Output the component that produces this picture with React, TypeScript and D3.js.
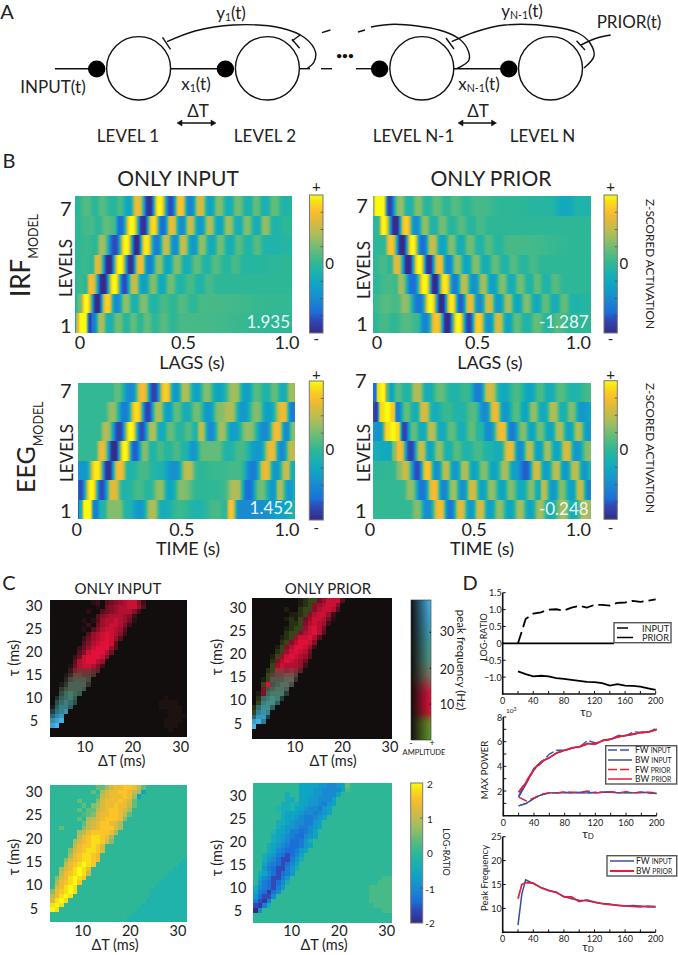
import React from 'react';
import * as d3 from 'd3';

// ---------- DATA ----------
const levelNames = [7, 6, 5, 4, 3, 2, 1];

// Panel B: each row (level 7 first) lists sample, z-value pairs for the stripes; 650 samples span a panel
const irfInput = [
  [0,-.05,37,.15,60,-.02,80,.15,115,-.05,135,.1,160,-.3,187,.7,223,-.95,253,1,287,-.8,316,.8,345,-.55,375,.6,405,-.3,431,.3,462,-.2,487,.25,520,-.15,542,.2,570,-.15,597,.2,630,-.1,650,-.05],
  [0,0,45,.1,70,0,95,.2,115,.1,135,-.7,170,1,205,-.95,235,.9,263,-.7,290,.7,320,-.5,345,.55,375,-.4,403,.45,433,-.3,460,.4,490,-.2,515,.3,545,-.2,570,.35,600,-.1,635,0,650,0],
  [0,0,35,.05,60,0,80,.4,120,-.8,153,1,185,-1,213,.95,245,-.6,273,.55,300,-.5,323,.55,355,-.4,380,.35,410,-.25,435,.25,465,-.2,490,.15,520,-.1,545,.15,575,-.1,650,-.05],
  [0,0,30,.05,50,0,67,.65,102,-1,135,1,167,-.95,195,.75,223,-.6,252,.35,278,-.3,305,.3,335,-.2,365,.2,395,-.1,420,.15,455,-.05,480,.1,510,-.05,650,0],
  [0,0,15,.05,30,0,48,.75,85,-1,118,1,148,-.8,177,.55,205,-.35,235,.3,260,-.25,287,.25,315,-.1,345,.1,375,-.1,400,.1,430,0,650,0],
  [0,-.1,12,.2,33,1,67,-1,97,.85,125,-.5,153,.35,178,-.15,205,.3,235,-.1,265,.1,295,0,320,.15,355,0,380,.1,650,.02],
  [0,-.3,7,.6,17,1,30,1,45,-.85,55,-.6,78,.45,103,-.15,130,.25,155,-.05,175,.2,195,0,215,.2,240,0,265,.15,295,0,320,.1,650,0],
];
const irfPrior = [
  [0,.3,8,1,28,1,48,-.85,80,.35,108,-.1,135,.3,162,-.05,190,.2,220,0,245,.15,280,0,310,.1,400,0,520,-.05,580,-.25,620,-.1,652,-.1],
  [0,-.05,12,0,30,1,67,-1,98,.85,128,-.5,155,.35,180,-.1,208,.25,235,-.05,265,.15,295,-.05,320,.1,350,0,652,0],
  [0,0,30,0,52,.8,87,-1,118,1,148,-.7,177,.55,208,-.3,235,.3,262,-.2,290,.25,320,-.1,345,.15,375,-.05,405,.1,652,0],
  [0,0,30,.1,50,0,70,.65,105,-1,138,1,167,-.95,198,.75,225,-.55,252,.35,280,-.3,307,.3,337,-.2,365,.2,395,-.1,420,.15,450,-.05,480,.1,510,0,652,0],
  [0,0,50,.1,65,.05,83,.4,118,-.7,155,1,185,-1,215,.95,245,-.6,272,.5,302,-.45,330,.4,358,-.35,387,.3,415,-.2,440,.25,470,-.1,490,.2,520,-.1,545,.15,575,0,652,0],
  [0,.05,40,.15,70,.1,95,.35,138,-.65,172,1,205,-1,235,.95,262,-.75,290,.7,318,-.5,347,.6,375,-.4,405,.4,432,-.3,460,.3,490,-.25,517,.2,545,-.2,572,.2,600,-.1,652,-.05],
  [0,0,35,.1,60,0,100,.15,130,.05,155,-.55,190,.8,222,-1,255,1,287,-.85,315,.85,347,-.45,375,.6,405,-.3,430,.2,460,-.1,490,.2,525,-.05,555,.15,590,0,652,0],
];
const eegInput = [
  [0,.02,100,.02,117,.2,159,-.5,195,.75,229,-.85,264,.85,294,-.4,322,.45,357,-.3,387,.3,422,-.3,472,.4,507,-.35,537,.15,567,-.1,590,.2,617,-.2,642,.4,652,.35],
  [0,.02,75,.02,104,.35,142,-.6,177,.9,210,-.85,242,.45,272,-.35,297,.2,327,-.2,357,.25,392,-.4,425,.3,457,.45,497,-.4,537,.3,572,-.35,617,.7,645,-.6,652,-.6],
  [0,.02,60,.02,85,.45,125,-.85,160,1,192,-.8,224,.45,252,-.25,277,.2,307,-.05,334,.15,352,-.1,370,.5,399,-.5,432,.4,467,-.35,512,.35,562,-.5,599,.75,627,-.5,647,.3,652,.3],
  [0,.02,50,.02,72,.7,110,-1,142,1,172,-.75,202,.3,225,-.1,247,.1,270,-.05,297,.1,322,-.1,347,-.4,377,.2,417,.2,452,-.1,487,.1,542,-.4,582,.7,612,-.5,642,.5,652,.5],
  [0,-.4,20,-.4,57,.95,92,-.95,125,.75,157,-.1,197,.1,240,-.1,292,-.45,330,.5,365,0,420,.05,480,.1,527,-.6,564,.7,595,-.4,627,.55,647,-.2,652,-.2],
  [0,-.7,7,-.8,42,1,72,-.8,107,.65,142,-.1,187,.1,212,-.05,247,.35,277,-.3,312,.3,367,0,427,.02,477,.45,512,-.7,550,.25,587,-.4,605,.45,637,-.4,652,-.2],
  [0,-.8,8,-.2,22,1,35,1,52,-.6,75,-.1,97,.3,122,.3,150,-.1,187,-.4,224,.45,257,-.2,307,.05,360,-.1,417,.1,442,0,459,.8,487,-.5,560,-.45,615,-.3,652,-.1],
];
const eegPrior = [
  [0,-.7,5,-.7,15,.9,30,1,45,.1,52,-.3,75,.15,100,-.1,132,.45,165,-.2,200,.2,240,-.1,280,.05,315,-.6,348,.6,390,-.25,430,.1,470,-.3,500,.1,530,-.2,560,.15,600,-.1,652,.1],
  [0,-.8,8,-.9,25,.9,43,1,60,.8,72,-.6,100,.2,125,-.2,152,.6,185,-.2,220,.05,260,-.1,300,.15,335,-.5,365,.7,395,-.4,430,.15,455,-.3,480,.35,510,-.25,540,.45,570,-.15,595,.3,625,-.4,652,-.3],
  [0,-.4,18,-.45,45,.9,60,1,72,.9,92,-.85,122,.2,147,-.25,175,.5,205,-.25,235,.2,265,-.2,295,.2,320,-.05,345,-.5,387,.75,415,-.6,450,.3,475,-.3,500,.25,530,-.3,558,.45,588,-.3,615,.45,645,-.4,652,-.4],
  [0,-.2,50,-.25,62,.3,78,.75,112,-.85,145,.55,170,-.3,197,.35,225,-.15,250,.15,280,-.1,315,.1,345,-.1,375,-.2,410,.7,440,-.5,468,.5,497,-.35,522,.4,550,-.3,580,.6,610,-.4,645,.3,652,.3],
  [0,0,60,.02,78,.3,95,.55,132,-.8,162,.8,190,-.45,218,.5,245,-.4,275,.45,302,-.3,332,.3,362,-.3,395,.4,425,-.35,458,-.75,490,.6,518,-.35,550,.5,575,-.4,605,.5,635,-.4,652,-.1],
  [0,.02,85,.02,112,.35,147,-.65,182,.75,212,-.55,240,.4,268,-.45,297,.6,328,-.3,355,.35,387,-.3,412,.3,445,-.25,475,.3,495,-.2,510,.5,540,-.4,565,.3,595,-.35,620,.55,648,-.55,652,-.55],
  [0,.02,105,.02,132,.3,162,-.5,200,.75,230,-.65,262,.65,292,-.4,320,.6,350,-.35,378,.35,410,-.3,440,.4,470,-.3,500,.4,530,-.2,570,.4,600,-.2,635,.45,652,.35],
];

// Panel C, top row: amplitude per cell (0-9). a,b,c = dim low-frequency cells; q,R = red cells; w = faint.
const ampInput = [
  '000000000120345678852','000000000010456778863','00000000100345677752','0000000000356777652','0000000101367787641',
  '000000002046788752','00000001035788763','00000000367898752','000000024678 9863','000000035789983',
  '000000246899963','00000035899974','0000024899985','000003789976','000014788752',
  '00002566654','0001366554','000256665','0013666 63','00356665',
  '0046765','0256750000000000000000000w','046764000000000000000000wwww','157750000000000000000000wwwww','36780000000000000000000000www',
  '57800000000000000000000000wwww','7890000000000000000000000wwww','8900000000000000000000000www','00000000000000000000000000w','0',
].map(s => s.replace(/ /g, ''));
const ampPrior = [
  '0000000000abcc468883','0000000000abc567885','0000000a00bcc578873','00000000aabc578862','0000000abac4688741',
  '00000000bbc578762','0000000abcc68974','0000000bcc578973','000000abc688973','000000bc579985',
  '00000ac5799862','00000bc689874','0000ac6898763','0000b5798764','0000c6877762',
  '000bc776764','000c566775','00ac666773','00cR56775','00q56776',
  '0aq67773','0b67873','0c7885','b6885','c787',
  '5883','896','9','0','0',
];
// Peak frequency (Hz) of the band in each row of the grid, top row first
const rowFrequency = [10,10,10,10,10,10,10,10,10,10,10,10,10,10,13,15,17,18,20,20,22,24,25,27,30,33,36,38,38,38];

// Panel C, bottom row: log-ratio per cell in base 21 ('0' = -2, 'a' = 0, 'k' = +2)
const ratioInput = [
  'aaaaaaaaaacceghhiihfc','aaaaaaaaacaeghhiihfe7','aaaaaaaaaabfghhhihe7','aaaaaacaaadghhhihgc','aaaaaaacadeghhihhfc',
  'aaaaaacaccfghiihge','aaaaaaabcdghhiihfc','aaaaaacaefghiiihd','aaaaaaacfghiihge','aacaaaadfghiiige',
  'aaaaaaefhiiiihe','aaaaaafhijjihe','aaaaaeghijjigd','aaaaafhiijig','aaaadghijjig',
  'aaaaehijjih','aaadghijjih','aaafhijkji','aaeghjkjh','aafhijkjf',
  'adghjkji','aehijki','aghjkj','dhijkj','fhjkj','gjkj','jkj','kj','a','a',
];
const ratioPrior = [
  'aaaaaaaaaa7777665567c','aaaaaaaaaa7776655557b','aaaaaaa8aa777665557','aaaaaaa88a77665557','aaaaaa889877665467',
  'aaaaa988977655467','aaaaaa87776554567','aaaaaa8776544567','aaaaa8876554467','aaaaa8766544567',
  'aaaa9776443457','aaaa8765433567','aaaa876533468','aaa8765433467','aaa875433467',
  'aa876432357','aa865322468','aa75432357','aa64322468','a87532346',
  'a7542246','a6432358','8543246','743135','63225','4214','2148','05','a','a',
];
// Cells at the right end of each row that read slightly below (input) or above (prior) the background
const ratioInputTail = [0,0,0,0,0,0,0,0,0,0,0,0,0,0,0,0,1,2,3,4,5,6,7,8,8,9,10,11,12,13];
const ratioPriorTail = [0,0,0,0,0,0,0,0,0,0,0,0,0,0,0,0,0,0,0,0,2,3,5,5,5,5,4,2,0,0];

// Panel D
const tauD = [20,30,40,50,60,70,80,90,100,110,120,130,140,150,160,170,180,190,200];
const tauPeak = [20,25,30,40,50,60,70,80,90,100,110,120,130,140,150,160,170,180,190,200];
const logInput = [0,.72,.88,.92,1.0,1.01,.97,1.06,1.11,1.06,1.14,1.14,1.12,1.2,1.21,1.26,1.23,1.26,1.3];
const logPrior = [-.83,-.91,-.98,-.96,-.98,-1.03,-1.05,-1.08,-1.11,-1.14,-1.15,-1.18,-1.25,-1.21,-1.25,-1.26,-1.28,-1.33,-1.38];
const powFwInputHigh = [1.6,2.7,3.7,4.3,5.0,5.3,5.3,5.5,5.6,6.1,5.9,6.1,6.2,6.5,6.5,6.8,6.75,6.8,7.1];
const powBwInputHigh = [1.5,2.6,3.8,4.4,4.7,5.1,5.3,5.5,5.6,5.85,5.8,6.1,6.2,6.4,6.5,6.6,6.75,6.8,7.0];
const powFwPriorHigh = [1.9,2.8,3.8,4.4,4.7,5.1,5.25,5.5,5.6,5.8,5.85,6.1,6.2,6.4,6.5,6.65,6.7,6.8,7.0];
const powBwPriorHigh = [1.9,2.7,3.8,4.4,4.7,5.1,5.3,5.5,5.6,5.85,5.8,6.1,6.2,6.4,6.5,6.6,6.75,6.8,7.0];
const powFwInputLow = [.8,1.0,1.4,1.7,1.85,1.85,1.9,1.85,1.9,1.85,1.9,1.9,1.95,1.85,1.9,1.85,1.9,1.85,1.8];
const powBwInputLow = [.8,1.0,1.4,1.7,1.85,1.85,1.85,1.85,1.85,1.85,1.85,1.9,1.9,1.85,1.85,1.85,1.9,1.85,1.8];
const powFwPriorLow = [1.5,1.2,1.45,1.75,1.85,1.85,1.95,1.9,1.9,2.0,1.85,1.9,1.95,1.85,1.95,1.85,1.9,1.9,1.85];
const peakFwInput = [6.5,13,16,15.2,14.4,13.8,13.3,12.5,12,11.7,11.6,11.3,11,10.9,10.6,10.5,10.6,10.5,10.3,10.3];
const peakBwPrior = [12,15,15.4,15.3,14.3,13.7,13.4,12.4,12.4,11.4,11.8,11.3,11,10.8,10.7,10.5,10.4,10.3,10.5,10.4];

// ---------- COLOURS ----------
const parula = d3.scaleLinear<string>()
  .domain([0,.1,.15,.25,.35,.45,.5,.6,.7,.8,.88,.95,1])
  .range(['#352a87','#2f4bb8','#1a6fd8','#1a8ad0','#0ea5c5','#1fb3ab','#2db796','#62bc7a','#a5bd5e','#d8ba3f','#fcbb2e','#f8de18','#f9fb0e'])
  .interpolate(d3.interpolateRgb);
const zColor = (z: number) => parula((z + 1) / 2);
const freqColor = d3.scaleLinear<string>()
  .domain([0,5.5,7,9,13,15,18,22,28,33,39])
  .range(['#5a9a2a','#70902a','#c81e34','#e0103a','#e0103a','#c03848','#7a7a68','#559a82','#3f9faa','#3ea8d0','#4ab8f0']);
const BLACK = '#120e0e';
const INK = '#222';
const FONT = 'Lato';

// ---------- HELPERS ----------
const T = ({x, y, s = 17, a = 'middle', c = INK, r, children}: any) => (
  <text x={x} y={y} fontSize={s} fontFamily={FONT} fill={c} textAnchor={a} dominantBaseline="central"
    transform={r ? `rotate(${r} ${x} ${y})` : undefined}>{children}</text>
);

const Sub = ({x, y, s, base, sub, tail, a = 'middle'}: any) => (
  <text x={x} y={y} fontSize={s} fontFamily={FONT} fill={INK} textAnchor={a} dominantBaseline="central">
    {base}<tspan dy={5} fontSize={s * .62}>{sub}</tspan><tspan dy={-5}>{tail}</tspan>
  </text>
);

const pairs = (flat: number[]) => d3.range(0, flat.length, 2).map(i => [flat[i], flat[i + 1]]);
const settle = (t: number) => t * t * (3 - 2 * t);

// Colour stops between the read knots; the stripes hold their value around each knot, as in the picture
function stripeStops(flat: number[], span: number) {
  const k = pairs(flat);
  const out: {o: number, c: string}[] = [];
  k.forEach((p, i) => {
    if (i === k.length - 1) { out.push({o: p[0] / span, c: zColor(p[1])}); return; }
    const q = k[i + 1];
    d3.range(8).forEach(j => {
      const f = j / 8;
      const e = settle(settle(f));
      out.push({o: (p[0] + (q[0] - p[0]) * f) / span, c: zColor(p[1] + (q[1] - p[1]) * e)});
    });
  });
  return out;
}

const StripePanel = ({id, rows, x0, x1, y0, y1, span}: any) => {
  const edge = d3.scaleLinear().domain([0, levelNames.length]).range([y0, y1]);
  return (
    <g>
      <defs>
        {rows.map((r: number[], i: number) => (
          <linearGradient key={i} id={`${id}${i}`} x1="0" x2="1" y1="0" y2="0">
            {stripeStops(r, span).map((s, j) => <stop key={j} offset={s.o} stopColor={s.c} />)}
          </linearGradient>
        ))}
      </defs>
      {rows.map((r: number[], i: number) => {
        const top = Math.round(edge(i));
        const bottom = Math.round(edge(i + 1));
        return <rect key={i} x={x0} y={top} width={x1 - x0} height={bottom - top} fill={`url(#${id}${i})`} shapeRendering="crispEdges" />;
      })}
    </g>
  );
};

const ColorBar = ({id, x, w, y0, y1, minor}: any) => {
  const pos = d3.scaleLinear().domain([0, 1]).range([y1, y0]);
  return (
    <g>
      <defs>
        <linearGradient id={id} x1="0" x2="0" y1="1" y2="0">
          {d3.range(0, 1.001, .05).map(v => <stop key={v} offset={v} stopColor={parula(v)} />)}
        </linearGradient>
      </defs>
      <rect x={x} y={y0} width={w} height={y1 - y0} fill={`url(#${id})`} stroke="#777" strokeWidth={1} />
      {minor.map((v: number) => <line key={v} x1={x + w - 2.5} x2={x + w} y1={pos(v)} y2={pos(v)} stroke="#444" strokeWidth={.7} />)}
    </g>
  );
};

const BPanel = ({id, rows, x0, x1, y0, y1, span, tick0, tick1, tickY, xTitle, titleX, titleY,
  seven, one, levelsX, levelsY, value, valueY, cbX, cbW, cbY0, cbY1, plusY, minusY, zeroY, zLabelY}: any) => {
  const tx = d3.scaleLinear().domain([0, 1]).range([tick0, tick1]);
  return (
    <g>
      <StripePanel id={id} rows={rows} x0={x0} x1={x1} y0={y0} y1={y1} span={span} />
      <T x={seven[0]} y={seven[1]} s={20}>7</T>
      <T x={one[0]} y={one[1]} s={20}>1</T>
      <T x={levelsX} y={levelsY} s={17} r={-90}>LEVELS</T>
      {[['0', 0], ['0.5', .5], ['1.0', 1]].map(([l, v]: any) => <T key={l} x={tx(v)} y={tickY} s={18}>{l}</T>)}
      <T x={titleX} y={titleY} s={18}>{xTitle}</T>
      <T x={x1 - 2} y={valueY} s={17} a="end" c="#eef6f6">{value}</T>
      <ColorBar id={`${id}cb`} x={cbX} w={cbW} y0={cbY0} y1={cbY1} minor={[.125,.25,.375,.625,.75,.875]} />
      <T x={cbX + cbW / 2} y={plusY} s={15}>+</T>
      <T x={cbX + cbW / 2} y={minusY} s={15}>-</T>
      <T x={cbX + cbW + 6.5} y={zeroY} s={15}>0</T>
      {zLabelY !== undefined && <T x={650} y={zLabelY} s={11.8} r={90}>Z-SCORED ACTIVATION</T>}
    </g>
  );
};

const gridCols = d3.range(30);

const CellGrid = ({x0, x1, y0, y1, color}: any) => {
  const bx = d3.scaleBand<number>().domain(gridCols).range([x0, x1]);
  const by = d3.scaleBand<number>().domain(gridCols).range([y0, y1]);
  return (
    <g shapeRendering="crispEdges">
      {gridCols.map(r => gridCols.map(c => (
        <rect key={`${r}-${c}`} x={bx(c)} y={by(r)} width={bx.bandwidth() + .5} height={by.bandwidth() + .5} fill={color(r, c)} />
      )))}
    </g>
  );
};

const ampColor = (rows: string[]) => (r: number, c: number) => {
  const ch = (rows[r] || '').padEnd(30, '0')[c];
  if (ch === 'a') return d3.interpolateRgb(BLACK, freqColor(4))(.12);
  if (ch === 'b') return d3.interpolateRgb(BLACK, freqColor(4))(.26);
  if (ch === 'c') return d3.interpolateRgb(BLACK, freqColor(4))(.42);
  if (ch === 'q') return d3.interpolateRgb(BLACK, freqColor(10))(.55);
  if (ch === 'R') return freqColor(10);
  if (ch === 'w') return '#1c120f';
  const amp = +ch / 9;
  return amp === 0 ? BLACK : d3.interpolateRgb(BLACK, freqColor(rowFrequency[r]))(amp);
};

const ratioColor = (rows: string[], tail: number[], tailChar: string) => (r: number, c: number) => {
  let ch = (rows[r] || '').padEnd(30, 'a')[c];
  if (ch === 'a' && c >= 30 - tail[r]) ch = tailChar;
  return parula(parseInt(ch, 21) / 20);
};

const CAxes = ({tick10, tick30, tauY5, tauY30, labelX, tickY, titleX, titleY, tauX, tauTitleY}: any) => {
  const tx = d3.scaleLinear().domain([10, 30]).range([tick10, tick30]);
  const ty = d3.scaleLinear().domain([5, 30]).range([tauY5, tauY30]);
  return (
    <g>
      {[10, 20, 30].map(v => <T key={v} x={tx(v)} y={tickY} s={14.5}>{v}</T>)}
      {[5, 10, 15, 20, 25, 30].map(v => <T key={v} x={labelX} y={ty(v)} s={14.5}>{v}</T>)}
      <T x={titleX} y={titleY} s={14.5}>ΔT (ms)</T>
      <T x={tauX} y={tauTitleY} s={14.5} r={-90}>τ (ms)</T>
    </g>
  );
};

const DAxes = ({x0, x1, yBottom, yTop, domain, ticks, labelFmt, minor}: any) => {
  const sx = d3.scaleLinear().domain([0, 200]).range([x0, x1]);
  const sy = d3.scaleLinear().domain(domain).range([yBottom, yTop]);
  return (
    <g>
      <line x1={x0} x2={x0} y1={yBottom + .8} y2={yTop} stroke="#111" strokeWidth={1.6} />
      <line x1={x0} x2={x1} y1={yBottom} y2={yBottom} stroke="#111" strokeWidth={1.6} />
      {d3.range(0, 201, 20).map(v => <line key={v} x1={sx(v)} x2={sx(v)} y1={yBottom} y2={yBottom - 3} stroke="#111" strokeWidth={1} />)}
      {d3.range(0, 201, 40).map(v => <T key={v} x={sx(v)} y={yBottom + 6.5} s={9}>{v}</T>)}
      {(minor || ticks).map((v: number) => <line key={v} x1={x0} x2={x0 + 3} y1={sy(v)} y2={sy(v)} stroke="#111" strokeWidth={1} />)}
      {ticks.map((v: number) => <T key={v} x={x0 - 1} y={sy(v)} s={9} a="end">{labelFmt(v)}</T>)}
    </g>
  );
};

const curve = (x0: number, x1: number, yb: number, yt: number, dom: number[], xs: number[], ys: number[]) => {
  const sx = d3.scaleLinear().domain([0, 200]).range([x0, x1]);
  const sy = d3.scaleLinear().domain(dom).range([yb, yt]);
  return d3.line<number>().x((_, i) => sx(xs[i])).y(v => sy(v))(ys) as string;
};

const TauD = ({x, y}: any) => (
  <text x={x} y={y} fontSize={12} fontFamily={FONT} fill={INK} textAnchor="middle" dominantBaseline="central">τ<tspan dy={3} fontSize={8}>D</tspan></text>
);

const LegendText = ({x, y, a, b}: any) => (
  <text x={x} y={y} fontFamily={FONT} fontSize={8.5} fill={INK} dominantBaseline="central">{a} <tspan fontSize={6.8}>{b}</tspan></text>
);

// Panel A
const smooth = d3.line().curve(d3.curveCatmullRom.alpha(.5));
const circlesX = [138.6, 267.4, 421.8, 550.5];
const dotsX = [96.7, 225.4, 379.6, 508.8];
const wires = [[55,97],[170.5,225],[299.6,310],[321,332],[356,380],[454,509]];
const feedback: [number, number][][] = [
  [[167,41.7],[195,31],[233,25],[281,28],[305,38],[315.5,52],[314,62],[307.5,68.3]],
  [[371,27],[395,24.3],[439,30],[458,38],[467,48],[469,60],[457,68.5]],
  [[451.7,41.7],[475,32],[505,25],[553,26.7],[578,33],[590,43],[594,56],[584,68]],
  [[292,41],[300,35]],
  [[322,32.7],[330.4,30]],
  [[358,32],[365,30]],
  [[610.7,35],[597,38],[581,45]],
];
const teeBars = [[162.5,37.3,170.5,49.3],[292,39.3,299.6,48.3],[446,38,454,49],[576.5,40.7,585,50]];
const levelLabels: [string, number][] = [['LEVEL 1',128],['LEVEL 2',265],['LEVEL N-1',413.5],['LEVEL N',542.5]];

const PanelA = () => (
  <g>
    <T x={7} y={11} s={20}>A</T>
    {wires.map((w, i) => <line key={i} x1={w[0]} x2={w[1]} y1={68.7} y2={68.7} stroke="#111" strokeWidth={1.4} />)}
    {feedback.map((f, i) => <path key={i} d={smooth(f) as string} fill="none" stroke="#111" strokeWidth={1.4} />)}
    {teeBars.map((t, i) => <line key={i} x1={t[0]} y1={t[1]} x2={t[2]} y2={t[3]} stroke="#111" strokeWidth={1.4} />)}
    {circlesX.map(x => <ellipse key={x} cx={x} cy={68.3} rx={32} ry={31.7} fill="none" stroke="#111" strokeWidth={1.4} />)}
    {dotsX.map(x => <ellipse key={x} cx={x} cy={69} rx={8.7} ry={8.5} fill="#000" />)}
    <text x={345} y={59} fontSize={10} fontWeight={700} fontFamily={FONT} fill="#111" textAnchor="middle">•••</text>
    <T x={53} y={86.5} s={17}>INPUT(t)</T>
    <Sub x={196} y={83} s={17} base="x" sub="1" tail="(t)" />
    <Sub x={479} y={83} s={17} base="x" sub="N-1" tail="(t)" />
    <Sub x={231} y={12} s={17} base="y" sub="1" tail="(t)" />
    <Sub x={522} y={10} s={17} base="y" sub="N-1" tail="(t)" />
    <T x={629} y={21} s={17}>PRIOR(t)</T>
    <T x={198} y={110.5} s={17}>ΔT</T>
    <T x={478} y={110.5} s={17}>ΔT</T>
    {[[177,216],[458,496.5]].map(([a, b]) => (
      <g key={a} stroke="#111" fill="#111">
        <line x1={a + 2} x2={b - 2} y1={123} y2={123} strokeWidth={1.4} />
        <path d={`M${a},123 l5,-3 v6 z M${b},123 l-5,-3 v6 z`} strokeWidth={.5} />
      </g>
    ))}
    {levelLabels.map(([l, x]) => <T key={l} x={x} y={135} s={17}>{l}</T>)}
  </g>
);

const FreqBar = () => {
  const y = d3.scaleLinear().domain([0, 39]).range([740, 600]);
  return (
    <g>
      <defs>
        <linearGradient id="fbv" x1="0" x2="0" y1="1" y2="0">
          {d3.range(0, 39.1, 1.5).map(f => <stop key={f} offset={f / 39} stopColor={freqColor(f)} />)}
        </linearGradient>
        <linearGradient id="fbh" x1="0" x2="1" y1="0" y2="0">
          <stop offset="0" stopColor={BLACK} />
          <stop offset="1" stopColor={BLACK} stopOpacity={0} />
        </linearGradient>
      </defs>
      <rect x={411} y={600} width={20} height={140} fill="url(#fbv)" />
      <rect x={411} y={600} width={20} height={140} fill="url(#fbh)" stroke="#333" strokeWidth={.6} />
      {[10, 20, 30].map(v => <line key={v} x1={429.5} x2={431} y1={y(v)} y2={y(v)} stroke="#111" />)}
      <T x={447} y={631.7} s={12.5}>30</T>
      <T x={447} y={669} s={12.5}>20</T>
      <T x={447} y={704} s={12.5}>10</T>
      <T x={411} y={742} s={9}>-</T>
      <T x={432} y={742} s={9}>+</T>
      <T x={424} y={752} s={7.6}>AMPLITUDE</T>
      <T x={461} y={660} s={11.5} r={90}>peak frequency (Hz)</T>
    </g>
  );
};

export default function App() {
  const D1 = {x0: 502.7, x1: 655.7, yb: 694, yt: 592.7, dom: [-1.5, 1.5]};
  const D2 = {x0: 503.3, x1: 656.7, yb: 815.7, yt: 717, dom: [0, 8]};
  const D3p = {x0: 502.7, x1: 655.7, yb: 932.3, yt: 836.7, dom: [5, 25]};
  const c1 = (xs: number[], ys: number[]) => curve(D1.x0, D1.x1, D1.yb, D1.yt, D1.dom, xs, ys);
  const c2 = (ys: number[]) => curve(D2.x0, D2.x1, D2.yb, D2.yt, D2.dom, tauD, ys);
  const c3 = (ys: number[]) => curve(D3p.x0, D3p.x1, D3p.yb, D3p.yt, D3p.dom, tauPeak, ys);
  const blue = '#3c52a8';
  const darkBlue = '#3a4f98';
  const red = '#e01f3a';
  const zeroY = d3.scaleLinear().domain(D1.dom).range([D1.yb, D1.yt])(0);

  return (
    <svg width={678} height={955} viewBox="0 0 678 955" style={{position: 'absolute', left: 0, top: 0, background: '#fff'}}>
      <PanelA />

      <T x={9} y={160} s={20}>B</T>
      <T x={178} y={177} s={21}>ONLY INPUT</T>
      <T x={491} y={177} s={21}>ONLY PRIOR</T>
      <text x={30} y={297} fontFamily={FONT} fontSize={26} fill={INK} transform="rotate(-90 30 297)">IRF<tspan dy={8} fontSize={12.5}>MODEL</tspan></text>
      <text x={35} y={493} fontFamily={FONT} fontSize={25} fill={INK} transform="rotate(-90 35 493)">EEG<tspan dy={7.5} fontSize={12.5}>MODEL</tspan></text>

      <BPanel id="b1" rows={irfInput} x0={75} x1={292} y0={196} y1={333} span={650} tick0={80} tick1={287} tickY={342}
        xTitle="LAGS (s)" titleX={192} titleY={361.5} seven={[65.7, 208]} one={[65.7, 325]} levelsX={65} levelsY={268}
        value="1.935" valueY={321.5} cbX={309.5} cbW={13.5} cbY0={195} cbY1={333} plusY={186} minusY={338} zeroY={262.7} />
      <BPanel id="b2" rows={irfPrior} x0={373.3} x1={590.7} y0={196} y1={333} span={652} tick0={377} tick1={578.3} tickY={342}
        xTitle="LAGS (s)" titleX={490} titleY={361.5} seven={[362, 205]} one={[362, 323]} levelsX={363} levelsY={270}
        value="-1.287" valueY={321} cbX={604} cbW={13.3} cbY0={195} cbY1={333} plusY={186} minusY={338} zeroY={263} zLabelY={264} />
      <BPanel id="b3" rows={eegInput} x0={77.7} x1={295} y0={382.7} y1={519.3} span={652} tick0={76.7} tick1={287} tickY={529}
        xTitle="TIME (s)" titleX={188} titleY={547.7} seven={[65.7, 390]} one={[65.7, 510]} levelsX={66.7} levelsY={453}
        value="1.452" valueY={507.7} cbX={309.3} cbW={14} cbY0={381} cbY1={520} plusY={374} minusY={526.7} zeroY={449} />
      <BPanel id="b4" rows={eegPrior} x0={373.3} x1={590.7} y0={382.7} y1={519.3} span={652} tick0={370} tick1={578.3} tickY={529}
        xTitle="TIME (s)" titleX={482} titleY={547.7} seven={[360.7, 380]} one={[360.7, 510]} levelsX={363} levelsY={453}
        value="-0.248" valueY={508} cbX={604} cbW={13.3} cbY0={380.7} cbY1={519.3} plusY={374} minusY={527} zeroY={449} zLabelY={448} />

      <T x={9} y={582} s={20}>C</T>
      <T x={118} y={588} s={15}>ONLY INPUT</T>
      <T x={328} y={588} s={15}>ONLY PRIOR</T>
      <CellGrid x0={50} x1={186.7} y0={600} y1={736.7} color={ampColor(ampInput)} />
      <CellGrid x0={251.7} x1={391.7} y0={598} y1={738} color={ampColor(ampPrior)} />
      <CellGrid x0={50} x1={186.7} y0={785} y1={921} color={ratioColor(ratioInput, ratioInputTail, '9')} />
      <CellGrid x0={253} x1={391.7} y0={783} y1={922} color={ratioColor(ratioPrior, ratioPriorTail, 'b')} />
      <CAxes tick10={85} tick30={180.7} tauY5={720} tauY30={605} labelX={34} tickY={746} titleX={121.7} titleY={760} tauX={13} tauTitleY={658} />
      <CAxes tick10={295} tick30={390} tauY5={723} tauY30={607.7} labelX={238} tickY={746} titleX={333} titleY={760} tauX={216.7} tauTitleY={657} />
      <CAxes tick10={82.7} tick30={178} tauY5={908} tauY30={791.7} labelX={34} tickY={930} titleX={115} titleY={944} tauX={13} tauTitleY={857} />
      <CAxes tick10={291.7} tick30={386.7} tauY5={910.7} tauY30={795} labelX={238} tickY={930} titleX={324} titleY={944} tauX={216.7} tauTitleY={858} />
      <FreqBar />
      <ColorBar id="lrcb" x={410.7} w={12} y0={783} y1={923} minor={[.25,.75]} />
      {[[2,784],[1,819],[0,853],[-1,889],[-2,923]].map(([v, y]) => <T key={v} x={430} y={y} s={10}>{v}</T>)}
      <T x={446} y={852} s={9} r={90}>LOG-RATIO</T>

      <T x={470} y={582} s={20}>D</T>

      {/* D1 */}
      <DAxes x0={D1.x0} x1={D1.x1} yBottom={D1.yb} yTop={D1.yt} domain={D1.dom} ticks={[-1,-.5,0,.5,1,1.5]}
        labelFmt={(v: number) => v === 0 ? '0' : d3.format('.1f')(v)} />
      <line x1={D1.x0} x2={614} y1={zeroY} y2={zeroY} stroke="#000" strokeWidth={1.8} />
      <path d={c1(tauD, logInput)} fill="none" stroke="#000" strokeWidth={1.8} strokeDasharray="12 5" />
      <path d={c1(tauD, logPrior)} fill="none" stroke="#000" strokeWidth={1.8} />
      <T x={483} y={637} s={9} r={-90}>LOG-RATIO</T>
      <TauD x={586} y={711} />
      <rect x={614} y={622.7} width={57} height={20} fill="#fff" stroke="#555" strokeWidth={1.4} />
      <line x1={617} x2={628} y1={628} y2={628} stroke="#000" strokeWidth={1.5} />
      <line x1={617} x2={633} y1={637.5} y2={637.5} stroke="#000" strokeWidth={1.5} />
      <T x={642} y={628} s={9.2} a="start">INPUT</T>
      <T x={642} y={637.5} s={9.2} a="start">PRIOR</T>

      {/* D2 */}
      <DAxes x0={D2.x0} x1={D2.x1} yBottom={D2.yb} yTop={D2.yt} domain={D2.dom} ticks={[2,4,6,8]} minor={[1,2,3,4,5,6,7,8]}
        labelFmt={(v: number) => v} />
      <path d={c2(powBwInputHigh)} fill="none" stroke={darkBlue} strokeWidth={1.4} />
      <path d={c2(powFwInputHigh)} fill="none" stroke={blue} strokeWidth={1.4} strokeDasharray="9 3" />
      <path d={c2(powBwInputLow)} fill="none" stroke={darkBlue} strokeWidth={1.4} />
      <path d={c2(powFwInputLow)} fill="none" stroke={blue} strokeWidth={1.4} strokeDasharray="9 3" />
      <path d={c2(powFwPriorLow)} fill="none" stroke={red} strokeWidth={1.4} strokeDasharray="9 4" />
      <path d={c2(powFwPriorHigh)} fill="none" stroke={red} strokeWidth={1.4} strokeDasharray="9 4" />
      <path d={c2(powBwPriorHigh)} fill="none" stroke={red} strokeWidth={1.7} />
      <T x={484} y={770} s={9.5} r={-90}>MAX POWER</T>
      <text x={506} y={713} fontSize={6.5} fontFamily={FONT} fill={INK}>10<tspan dy={-2} fontSize={5}>3</tspan></text>
      <TauD x={588} y={833} />
      <rect x={605.7} y={745.7} width={71} height={38.3} fill="#fff" stroke="#555" strokeWidth={1.4} />
      <line x1={608} x2={632} y1={750} y2={750} stroke={blue} strokeWidth={1.5} strokeDasharray="9 3" />
      <line x1={608} x2={632} y1={760} y2={760} stroke={darkBlue} strokeWidth={1.5} />
      <line x1={608} x2={632} y1={769.5} y2={769.5} stroke={red} strokeWidth={1.5} strokeDasharray="9 3" />
      <line x1={608} x2={632} y1={779} y2={779} stroke={red} strokeWidth={1.5} />
      <LegendText x={635} y={750} a="FW" b="INPUT" />
      <LegendText x={635} y={760} a="BW" b="INPUT" />
      <LegendText x={635} y={769.5} a="FW" b="PRIOR" />
      <LegendText x={635} y={779} a="BW" b="PRIOR" />

      {/* D3 */}
      <DAxes x0={D3p.x0} x1={D3p.x1} yBottom={D3p.yb} yTop={D3p.yt} domain={D3p.dom} ticks={[10,15,20,25]} minor={[5,10,15,20,25]}
        labelFmt={(v: number) => v} />
      <path d={c3(peakFwInput)} fill="none" stroke={darkBlue} strokeWidth={1.5} />
      <path d={c3(peakBwPrior)} fill="none" stroke={red} strokeWidth={1.7} />
      <T x={484} y={878} s={9.5} r={-90}>Peak Frequency</T>
      <TauD x={588} y={946} />
      <rect x={607} y={855.7} width={69.7} height={20.3} fill="#fff" stroke="#555" strokeWidth={1.4} />
      <line x1={610} x2={634} y1={861} y2={861} stroke={darkBlue} strokeWidth={1.5} />
      <line x1={610} x2={634} y1={871} y2={871} stroke={red} strokeWidth={2} />
      <LegendText x={636} y={861} a="FW" b="INPUT" />
      <LegendText x={636} y={871} a="BW" b="PRIOR" />
    </svg>
  );
}
